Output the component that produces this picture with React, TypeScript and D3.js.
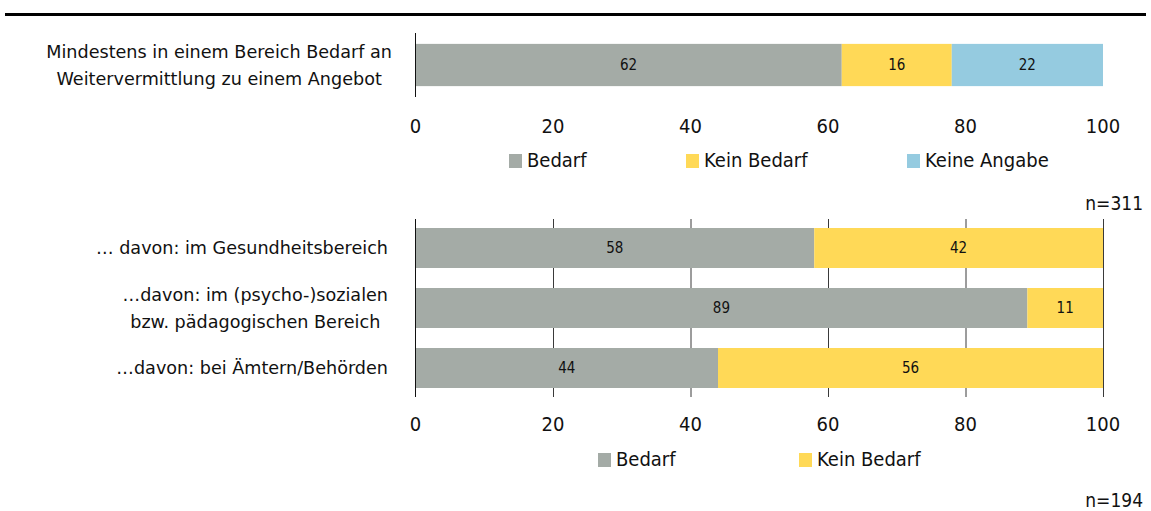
import React, { useRef, useEffect } from 'react';
import * as d3 from 'd3';

// top chart
const topLabel = ['Mindestens in einem Bereich Bedarf an', 'Weitervermittlung zu einem Angebot'];
const topSeries = ['Bedarf', 'Kein Bedarf', 'Keine Angabe'];
const topValues = [62, 16, 22];
const topN = 'n=311';

// bottom chart
const bottomLabels = [
    ['… davon: im Gesundheitsbereich'],
    ['…davon: im (psycho-)sozialen', 'bzw. pädagogischen Bereich'],
    ['…davon: bei Ämtern/Behörden'],
];
const bottomSeries = ['Bedarf', 'Kein Bedarf'];
const bedarfValues = [58, 89, 44];
const keinBedarfValues = [42, 11, 56];
const bottomN = 'n=194';

const xTicks = [0, 20, 40, 60, 80, 100];
const colors = ['#a4aba6', '#ffd957', '#95cbe0'];

const labelFont = '"DejaVu Sans", Verdana, sans-serif';
const numFont = '"DejaVu Sans Condensed", "DejaVu Sans", sans-serif';

const W = 1151;
const H = 511;

const App = () => {
    const svgRef = useRef<SVGSVGElement>(null);

    useEffect(() => {
        const svg = d3.select(svgRef.current);
        svg.selectAll('*').remove();

        const x = d3.scaleLinear().domain([0, 100]).range([415.5, 1103]);

        // rule at the top
        svg.append('line')
            .attr('x1', 5).attr('x2', 1146)
            .attr('y1', 14.5).attr('y2', 14.5)
            .attr('stroke', '#000').attr('stroke-width', 3);

        // draws multi-line labels: block right aligned, lines centred within it
        const drawLabel = (lines: string[], right: number, cy: number) => {
            const lh = 27;
            const g = svg.append('g');
            const texts = lines.map((l, i) => g.append('text')
                .attr('y', cy + (i - (lines.length - 1) / 2) * lh)
                .attr('dy', '0.35em')
                .attr('text-anchor', 'middle')
                .style('font-family', labelFont)
                .style('font-size', '17.6px')
                .attr('fill', '#111')
                .text(l));
            const widths = texts.map(t => (t.node() as SVGTextElement).getComputedTextLength());
            const maxW = d3.max(widths) || 0;
            texts.forEach(t => t.attr('x', right - maxW / 2));
        };

        const drawTicks = (y: number) => {
            svg.append('g').selectAll('text')
                .data(xTicks)
                .enter().append('text')
                .attr('x', d => x(d))
                .attr('y', y)
                .attr('dy', '0.35em')
                .attr('text-anchor', 'middle')
                .style('font-family', numFont)
                .style('font-size', '20px')
                .attr('fill', '#111')
                .text(d => d);
        };

        const drawLegend = (names: string[], xs: number[], y: number) => {
            const g = svg.append('g');
            names.forEach((n, i) => {
                g.append('rect')
                    .attr('x', xs[i]).attr('y', y - 6)
                    .attr('width', 13).attr('height', 14)
                    .attr('fill', colors[i]);
                g.append('text')
                    .attr('x', xs[i] + 18).attr('y', y)
                    .attr('dy', '0.35em')
                    .style('font-family', numFont)
                    .style('font-size', '20px')
                    .attr('fill', '#111')
                    .text(n);
            });
        };

        const valueLabel = (g: any, x0: number, x1: number, cy: number, v: number) => {
            g.append('text')
                .attr('x', (x0 + x1) / 2)
                .attr('y', cy)
                .attr('dy', '0.35em')
                .attr('text-anchor', 'middle')
                .style('font-family', numFont)
                .style('font-size', '15px')
                .attr('fill', '#111')
                .text(v);
        };

        // ---- top chart
        const y1 = d3.scaleBand().domain(['0']).range([33, 97]).paddingInner(0.34).paddingOuter(0.17);
        const topRow: any = {};
        topSeries.forEach((s, i) => { topRow[s] = topValues[i]; });
        const topStack = d3.stack().keys(topSeries)([topRow]);
        const g1 = svg.append('g');
        topStack.forEach((layer, i) => {
            layer.forEach(d => {
                g1.append('rect')
                    .attr('x', x(d[0]))
                    .attr('y', y1('0') as number)
                    .attr('width', x(d[1]) - x(d[0]))
                    .attr('height', y1.bandwidth())
                    .attr('fill', colors[i]);
                valueLabel(g1, x(d[0]), x(d[1]), (y1('0') as number) + y1.bandwidth() / 2, d[1] - d[0]);
            });
        });
        svg.append('line')
            .attr('x1', x(0)).attr('x2', x(0))
            .attr('y1', 33).attr('y2', 97)
            .attr('stroke', '#111').attr('stroke-width', 1);
        drawLabel(topLabel, 392, (y1('0') as number) + y1.bandwidth() / 2);
        drawTicks(126);
        drawLegend(topSeries, [509, 686, 907], 160);
        svg.append('text')
            .attr('x', 1143).attr('y', 203).attr('dy', '0.35em')
            .attr('text-anchor', 'end')
            .style('font-family', numFont).style('font-size', '19px')
            .attr('fill', '#111')
            .text(topN);

        // ---- bottom chart
        const rows = bottomLabels.map((l, i) => ({ key: String(i), Bedarf: bedarfValues[i], 'Kein Bedarf': keinBedarfValues[i] }));
        const y2 = d3.scaleBand().domain(rows.map(r => r.key)).range([219, 397]).paddingInner(1 / 3).paddingOuter(0.15);
        const g2 = svg.append('g');
        // grid
        g2.selectAll('line.grid')
            .data(xTicks)
            .enter().append('line')
            .attr('x1', d => x(d) + (d === 0 ? 0 : 0.5)).attr('x2', d => x(d) + (d === 0 ? 0 : 0.5))
            .attr('y1', 219).attr('y2', 397)
            .attr('stroke', d => d === 0 ? '#111' : '#3a3a3a').attr('stroke-width', 1);
        const bottomStack = d3.stack<any>().keys(bottomSeries)(rows);
        bottomStack.forEach((layer, i) => {
            layer.forEach(d => {
                const r = d.data;
                g2.append('rect')
                    .attr('x', x(d[0]) + (d[0] === 0 ? 0.5 : 0))
                    .attr('y', y2(r.key) as number)
                    .attr('width', x(d[1]) - x(d[0]) - (d[0] === 0 ? 0.5 : 0))
                    .attr('height', y2.bandwidth())
                    .attr('fill', colors[i]);
                valueLabel(g2, x(d[0]), x(d[1]), (y2(r.key) as number) + y2.bandwidth() / 2, d[1] - d[0]);
            });
        });
        bottomLabels.forEach((l, i) => {
            drawLabel(l, 388, (y2(String(i)) as number) + y2.bandwidth() / 2);
        });
        drawTicks(424);
        drawLegend(bottomSeries, [598, 799], 459);
        svg.append('text')
            .attr('x', 1143).attr('y', 500).attr('dy', '0.35em')
            .attr('text-anchor', 'end')
            .style('font-family', numFont).style('font-size', '19px')
            .attr('fill', '#111')
            .text(bottomN);
    }, []);

    return (
        <svg ref={svgRef} width={W} height={H}
            style={{ position: 'absolute', top: 0, left: 0, background: '#fff' }} />
    );
};

export default App;
